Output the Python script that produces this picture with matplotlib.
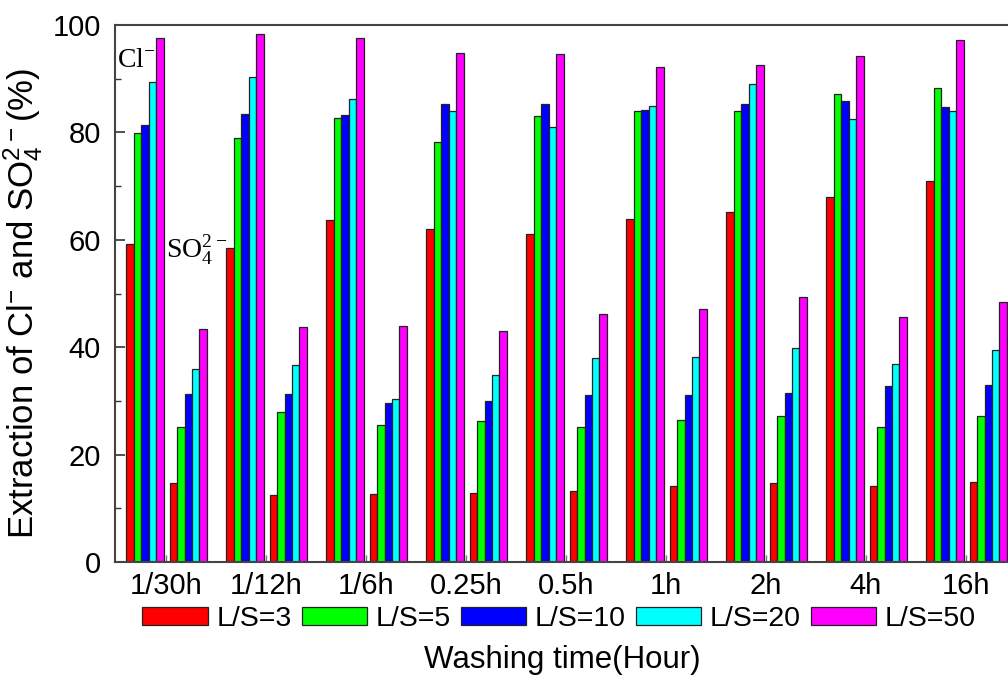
import matplotlib
matplotlib.use("Agg")
import matplotlib.pyplot as plt
import numpy as np
from matplotlib.ticker import MultipleLocator

categories = ["1/30h", "1/12h", "1/6h", "0.25h", "0.5h", "1h", "2h", "4h", "16h"]
series_names = ["L/S=3", "L/S=5", "L/S=10", "L/S=20", "L/S=50"]
colors = ["#FF0000", "#00FF00", "#0000FF", "#00FFFF", "#FF00FF"]

# Cl- extraction (%), one list per L/S ratio
cl_ls3 = [59.3, 58.5, 63.7, 62.1, 61.1, 63.8, 65.2, 67.9, 71.0]
cl_ls5 = [79.8, 79.0, 82.7, 78.3, 83.1, 83.9, 83.9, 87.2, 88.3]
cl_ls10 = [81.3, 83.5, 83.3, 85.2, 85.3, 84.1, 85.2, 85.9, 84.7]
cl_ls20 = [89.3, 90.3, 86.2, 83.9, 81.0, 85.0, 89.1, 82.5, 84.0]
cl_ls50 = [97.5, 98.3, 97.5, 94.7, 94.6, 92.1, 92.6, 94.2, 97.2]

# SO4 2- extraction (%)
so4_ls3 = [14.8, 12.5, 12.7, 12.9, 13.3, 14.1, 14.8, 14.2, 14.9]
so4_ls5 = [25.2, 28.0, 25.5, 26.2, 25.2, 26.4, 27.2, 25.2, 27.1]
so4_ls10 = [31.2, 31.3, 29.6, 30.0, 31.1, 31.1, 31.4, 32.8, 33.0]
so4_ls20 = [36.0, 36.6, 30.4, 34.9, 37.9, 38.1, 39.9, 36.9, 39.4]
so4_ls50 = [43.3, 43.8, 44.0, 43.1, 46.2, 47.2, 49.3, 45.7, 48.5]

cl_data = [cl_ls3, cl_ls5, cl_ls10, cl_ls20, cl_ls50]
so4_data = [so4_ls3, so4_ls5, so4_ls10, so4_ls20, so4_ls50]

plt.rcParams['font.family'] = ['Liberation Sans', 'DejaVu Sans']

W, H = 1008, 681
fig = plt.figure(figsize=(W / 100, H / 100), dpi=100)
ax_left, ax_right, ax_top, ax_bot = 115, 1016, 25, 562
ax = fig.add_axes([ax_left / W, 1 - ax_bot / H, (ax_right - ax_left) / W, (ax_bot - ax_top) / H])

x = np.arange(len(categories))
bw = 0.0747
cl_start = -0.397
so4_start = 0.036
for k in range(5):
    ax.bar(x + cl_start + (k + 0.5) * bw, cl_data[k], width=bw, color=colors[k],
           edgecolor="#222222", linewidth=0.9, label=series_names[k])
    ax.bar(x + so4_start + (k + 0.5) * bw, so4_data[k], width=bw, color=colors[k],
           edgecolor="#222222", linewidth=0.9)

ax.set_xlim(-0.51, 8.5)
ax.set_ylim(0, 100)
ax.set_xticks(x)
ax.set_xticklabels(categories)
ax.yaxis.set_major_locator(MultipleLocator(20))
ax.yaxis.set_minor_locator(MultipleLocator(10))
ax.tick_params(axis='y', which='major', direction='in', length=7, width=1.2,
               labelsize=21, pad=10, color="#333333")
ax.tick_params(axis='y', which='minor', direction='in', length=4, width=1.0, color="#333333")
ax.tick_params(axis='x', which='major', direction='in', length=5, width=1.0,
               labelsize=21, pad=7, color="#777777")
for s in ax.spines.values():
    s.set_linewidth(1.5)
    s.set_color("#444444")

ax.set_ylabel(r'Extraction of Cl$\mathregular{^{-}}$ and SO$\mathregular{_4^{2-}}$(%)',
              fontsize=25)
ax.yaxis.set_label_coords(-0.078, 0.482)
ax.set_xlabel('Washing time(Hour)', fontsize=22.5)
ax.xaxis.set_label_coords(0.497, -0.155)

ax.text(-0.49, 92.2, r'Cl$\mathregular{^{-}}$', family='Liberation Serif', fontsize=20,
        va='baseline', ha='left')
ax.text(0.0, 56.6, r'SO$\mathregular{_4^{2-}}$', family='Liberation Serif', fontsize=20,
        va='baseline', ha='left')

leg = ax.legend(loc='center', bbox_to_anchor=(0.493, -0.106), ncol=5, frameon=False,
                fontsize=20.5, handlelength=2.3, handleheight=0.6, handletextpad=0.3,
                columnspacing=0.35, borderpad=0, borderaxespad=0)

fig.savefig("out.png", dpi=100)
